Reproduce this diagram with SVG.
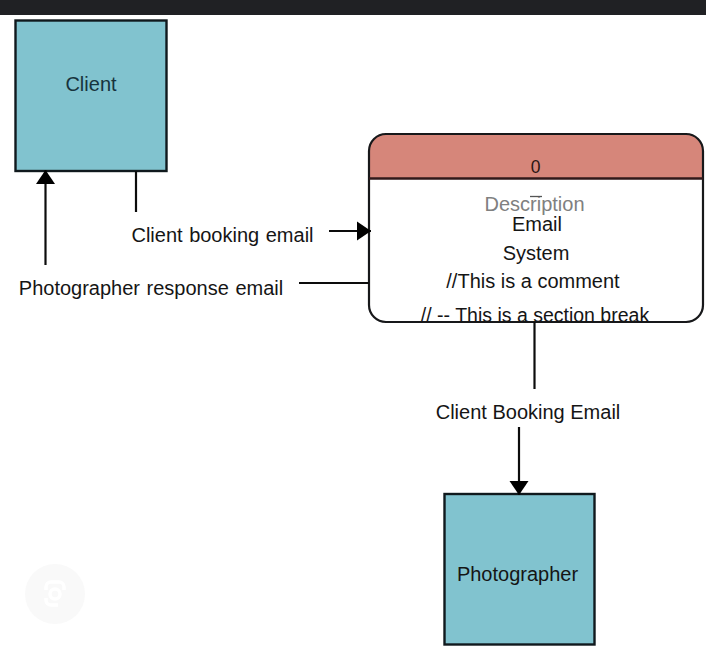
<svg xmlns="http://www.w3.org/2000/svg" width="706" height="649" viewBox="0 0 706 649">
<style>
text{font-family:"Liberation Sans",Arial,sans-serif;font-size:20px;fill:#151515;text-anchor:middle}
.ent{fill:#81c3cf;stroke:#10191d;stroke-width:2.4}
.ln{fill:none;stroke:#0c0c0c;stroke-width:2.2}
</style>
<defs><marker id="arr" markerUnits="userSpaceOnUse" markerWidth="16" markerHeight="20" refX="15" refY="10" orient="auto"><path d="M1 .5L15 10L1 19.500Z" fill="#000"/></marker></defs>
<rect width="706" height="649" fill="#fff"/>
<rect width="706" height="15" fill="#202124"/>
<circle cx="55" cy="594" r="30" fill="#f9f9f9"/>
<g fill="none" stroke="#fff" stroke-width="3.500"><path d="M46 590v-3a5 5 0 0 1 5-5h8a5 5 0 0 1 5 5v3M46 598v2a5 5 0 0 0 5 5h7"/><circle cx="55" cy="594" r="5"/></g>
<g id="client"><rect class="ent" x="15.500" y="20.500" width="151" height="150.500"/><text x="91" y="90.500" style="fill:#17333d">Client</text></g>
<g id="photographer"><rect class="ent" x="444.500" y="494" width="150" height="150.500"/><text x="517.500" y="581">Photographer</text></g>
<g id="process">
<rect x="369" y="134" width="334" height="188" rx="17" fill="#fff"/>
<path d="M369 178.500V151a17 17 0 0 1 17-17H686a17 17 0 0 1 17 17V178.500Z" fill="#d6867a"/>
<rect x="369" y="134" width="334" height="188" rx="17" fill="none" stroke="#17181a" stroke-width="2.200"/>
<path d="M369 178.500H703" stroke="#31191a" stroke-width="2.400"/>
<text x="535.500" y="173" style="font-size:17.500px;fill:#2a1512">0</text>
<text x="534.500" y="211" style="fill:#808080">Description</text>
<path d="M530 196.500h12" stroke="#555" stroke-width="1.300"/>
<text x="537" y="231">Email</text>
<text x="536" y="260">System</text>
<text x="533" y="288">//This is a comment</text>
<text x="535" y="321.500" style="font-size:19.500px">// -- This is a section break</text>
</g>
<g id="connectors">
<path class="ln" d="M136 171V212"/>
<path class="ln" marker-end="url(#arr)" d="M329 231H371"/>
<path class="ln" marker-end="url(#arr)" d="M45.500 265V170"/>
<path class="ln" d="M299 283H369"/>
<path class="ln" d="M534.500 322V389"/>
<path class="ln" marker-end="url(#arr)" d="M519 427V495"/>
</g>
<g id="labels">
<text x="222.500" y="242" style="word-spacing:1px">Client booking email</text>
<text x="151" y="295" style="word-spacing:1px">Photographer response email</text>
<text x="528" y="419">Client Booking Email</text>
</g>
</svg>
